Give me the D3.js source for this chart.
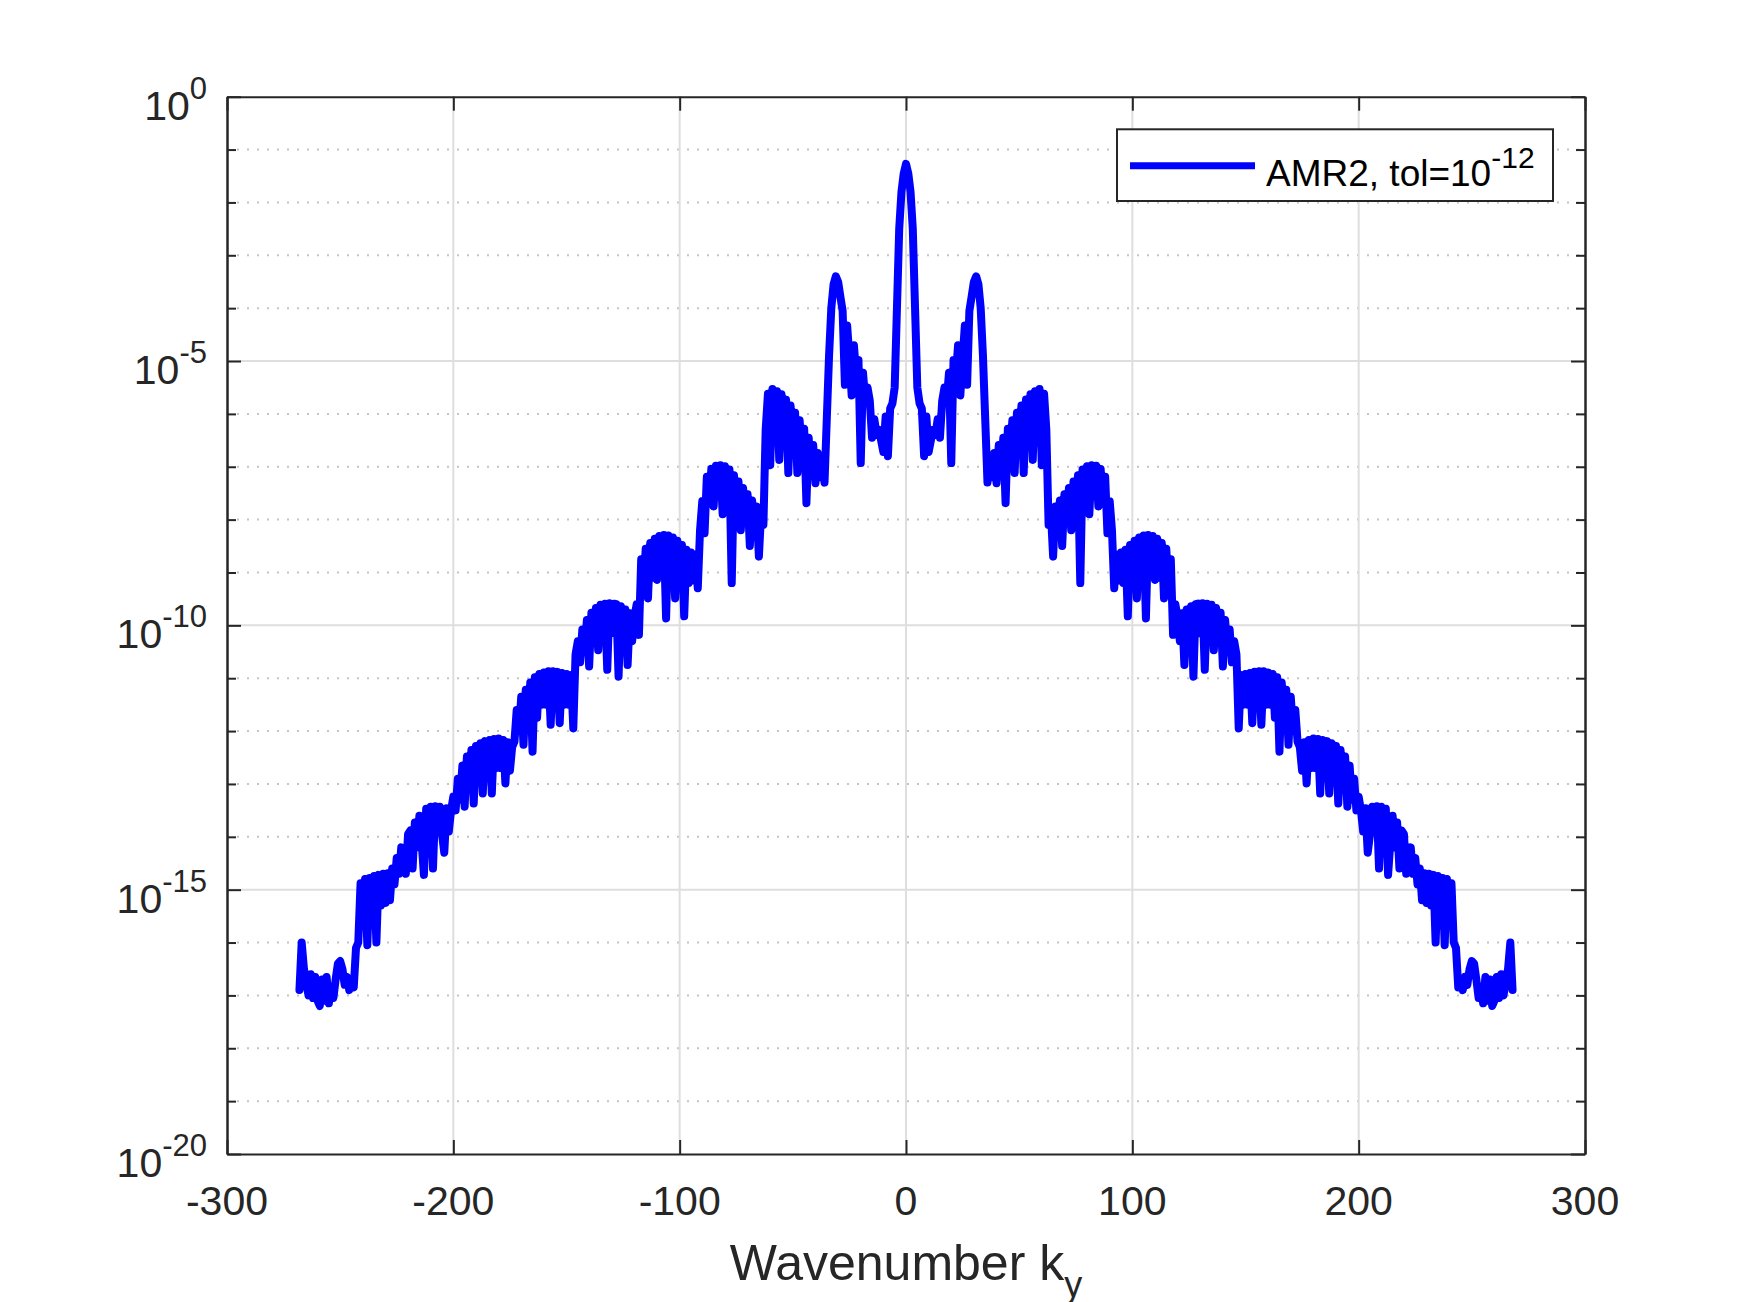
<!DOCTYPE html>
<html>
<head>
<meta charset="utf-8">
<script src="https://cdn.jsdelivr.net/npm/d3@7"></script>
<style>
  body { margin: 0; background: #fff; }
  text { font-family: "Liberation Sans", Arial, Helvetica, sans-serif; }
</style>
</head>
<body>
<div id="chart"></div>
<script>
// wavenumbers run from kMin to kMax in steps of one
var kMin = -268, kMax = 268;

// log10 of the spectrum, k = -268 ... 0
var logAmpLeft = [
    -16.9, -16.0, -16.5, -16.75, -17.0, -16.6, -17.05, -16.65, -17.1, -17.2, -16.7, -17.1, -16.65, -17.15,
    -16.85, -17.05, -16.7, -16.4, -16.35, -16.5, -16.8, -16.65, -16.9, -16.7, -16.85, -16.1, -16.0,
    -14.88, -15.3, -14.8, -16.05, -14.78, -15.3, -14.74, -16.0, -14.72, -15.3, -14.7, -15.25, -14.69, -15.2,
    -14.6, -14.9, -14.4, -14.7, -14.2, -14.45, -14.7, -13.95, -13.88, -14.6, -13.73, -14.2, -13.6, -14.1,
    -14.72, -13.47, -14.0, -13.43, -14.6, -13.42, -13.9, -13.43, -13.95, -14.3, -13.46, -13.9, -13.5,
    -13.24, -13.5, -12.9, -13.3, -12.65, -13.43, -12.48, -13.0, -12.36, -13.37, -12.28, -12.8, -12.23, -13.18,
    -12.19, -12.75, -12.17, -13.18, -12.15, -12.7, -12.14, -12.7, -12.17, -12.99, -12.21, -12.75, -12.3,
    -12.2, -11.6, -12.0, -11.35, -12.26, -11.22, -11.8, -11.08, -12.39, -10.98, -11.75, -10.92, -11.5, -10.89,
    -11.5, -10.87, -11.88, -10.87, -11.45, -10.88, -11.85, -10.9, -11.5, -10.92, -11.5, -10.94, -11.95,
    -10.55, -10.3, -10.7, -10.08, -10.5, -9.9, -10.78, -9.76, -10.25, -9.67, -10.47, -9.61, -10.15, -9.59,
    -10.84, -9.58, -10.15, -9.59, -9.6, -10.97, -9.64, -10.2, -9.7, -10.75, -9.77, -10.3, -9.85,
    -9.6, -10.18, -8.75, -9.3, -8.55, -9.49, -8.44, -9.1, -8.36, -9.14, -8.31, -9.0, -8.29, -9.87,
    -8.3, -9.05, -8.34, -9.49, -8.4, -9.1, -8.48, -9.83, -8.57, -9.2, -8.62, -9.15, -8.66, -9.3,
    -8.2, -7.65, -8.26, -7.19, -7.7, -7.04, -7.75, -6.98, -7.55, -6.97, -7.9, -6.99, -7.6, -7.05, -9.2,
    -7.16, -7.75, -7.28, -8.2, -7.4, -7.95, -7.52, -8.5, -7.64, -8.1, -7.75, -8.7, -7.85, -8.1,
    -6.3, -5.62, -6.97, -5.53, -6.2, -5.57, -6.87, -5.63, -6.3, -5.73, -7.12, -5.84, -6.5, -5.98,
    -7.12, -6.12, -6.75, -6.28, -7.69, -6.45, -7.05, -6.59, -7.31, -6.74, -7.2, -6.88, -7.3,
    -6.1, -4.9, -4.0, -3.55, -3.4, -3.5, -3.78, -4.05, -5.45, -4.33, -4.95, -5.65, -4.7, -5.3, -4.98, -6.93,
    -5.22, -5.75, -5.5, -5.75, -6.45, -6.1, -6.4, -6.3, -6.5, -6.72, -6.05, -6.8, -5.9, -5.8, -5.5, -4.0,
    -2.5, -1.8, -1.45, -1.27
];

// k = 1 ... 268
var logAmpRight = [
    -1.45, -1.8, -2.5, -4.0, -5.5, -5.8, -5.9, -6.8, -6.05, -6.72, -6.5, -6.3, -6.4, -6.1, -6.45, -5.75,
    -5.5, -5.75, -5.22, -6.93, -4.98, -5.3, -4.7, -5.65, -4.95, -4.33, -5.45, -4.05, -3.78, -3.5, -3.4,
    -3.55, -4.0, -4.9, -6.1,
    -7.3, -6.88, -7.2, -6.74, -7.31, -6.59, -7.05, -6.45, -7.69, -6.28, -6.75, -6.12, -7.12, -5.98,
    -6.5, -5.84, -7.12, -5.73, -6.3, -5.63, -6.87, -5.57, -6.2, -5.53, -6.97, -5.62, -6.3,
    -8.1, -7.85, -8.7, -7.75, -8.1, -7.64, -8.5, -7.52, -7.95, -7.4, -8.2, -7.28, -7.75, -7.16, -9.2,
    -7.05, -7.6, -6.99, -7.9, -6.97, -7.55, -6.98, -7.75, -7.04, -7.7, -7.19, -8.26, -7.65, -8.2,
    -9.3, -8.66, -9.15, -8.62, -9.2, -8.57, -9.83, -8.48, -9.1, -8.4, -9.49, -8.34, -9.05, -8.3,
    -9.87, -8.29, -9.0, -8.31, -9.14, -8.36, -9.1, -8.44, -9.49, -8.55, -9.3, -8.75, -10.18, -9.6,
    -9.85, -10.3, -9.77, -10.75, -9.7, -10.2, -9.64, -10.97, -9.6, -9.59, -10.15, -9.58, -10.84, -9.59,
    -10.15, -9.61, -10.47, -9.67, -10.25, -9.76, -10.78, -9.9, -10.5, -10.08, -10.7, -10.3, -10.55,
    -11.95, -10.94, -11.5, -10.92, -11.5, -10.9, -11.85, -10.88, -11.45, -10.87, -11.88, -10.87, -11.5,
    -10.89, -11.5, -10.92, -11.75, -10.98, -12.39, -11.08, -11.8, -11.22, -12.26, -11.35, -12.0, -11.6, -12.2,
    -12.3, -12.75, -12.21, -12.99, -12.17, -12.7, -12.14, -12.7, -12.15, -13.18, -12.17, -12.75, -12.19,
    -13.18, -12.23, -12.8, -12.28, -13.37, -12.36, -13.0, -12.48, -13.43, -12.65, -13.3, -12.9, -13.5, -13.24,
    -13.5, -13.9, -13.46, -14.3, -13.95, -13.43, -13.9, -13.42, -14.6, -13.43, -14.0, -13.47, -14.72,
    -14.1, -13.6, -14.2, -13.73, -14.6, -13.88, -13.95, -14.7, -14.45, -14.2, -14.7, -14.4, -14.9, -14.6,
    -15.2, -14.69, -15.25, -14.7, -15.3, -14.72, -16.0, -14.74, -15.3, -14.78, -16.05, -14.8, -15.3, -14.88,
    -16.0, -16.1, -16.85, -16.7, -16.9, -16.65, -16.8, -16.5, -16.35, -16.4, -16.7, -17.05, -16.85, -17.15,
    -16.65, -17.1, -16.7, -17.2, -17.1, -16.65, -17.05, -16.6, -17.0, -16.75, -16.5, -16.0, -16.9
];

var xTicks = [-300, -200, -100, 0, 100, 200, 300];
var yMajorExp = [0, -5, -10, -15, -20];
var yMinorExp = [-1, -2, -3, -4, -6, -7, -8, -9, -11, -12, -13, -14, -16, -17, -18, -19];
var seriesName = "AMR2, tol=10";
var seriesSup = "-12";
var xLabel = "Wavenumber k";
var xLabelSub = "y";

var drawSpectrum = (function () {

    var W = 1750, H = 1302;
    var plot = {left: 227, right: 1585, top: 96.7, bottom: 1154};
    var axisColor = "#262626";

    function go() {
        var kv = d3.range(kMin, kMax + 1);
        var logAmp = logAmpLeft.concat(logAmpRight);
        var data = kv.map(function (k, i) { return {k: k, amp: Math.pow(10, logAmp[i])}; });

        var svg = d3.select("#chart").append("svg")
            .attr("width", W)
            .attr("height", H)
            .style("display", "block")
            .style("background", "#fff");

        var x = d3.scaleLinear().domain([-300, 300]).range([plot.left, plot.right]);
        var y = d3.scaleLog().domain([1e-20, 1]).range([plot.bottom, plot.top]);

        // grid: dotted minor decades, solid major
        var grid = svg.append("g");
        grid.selectAll(".minor")
            .data(yMinorExp)
            .enter().append("line")
            .attr("x1", plot.left).attr("x2", plot.right)
            .attr("y1", function (e) { return y(Math.pow(10, e)); })
            .attr("y2", function (e) { return y(Math.pow(10, e)); })
            .attr("stroke", "#c4c4c4")
            .attr("stroke-width", 2)
            .attr("stroke-dasharray", "2,8");
        grid.selectAll(".ymaj")
            .data(yMajorExp.slice(1, 4))
            .enter().append("line")
            .attr("x1", plot.left).attr("x2", plot.right)
            .attr("y1", function (e) { return y(Math.pow(10, e)); })
            .attr("y2", function (e) { return y(Math.pow(10, e)); })
            .attr("stroke", "#dedede")
            .attr("stroke-width", 2);
        grid.selectAll(".xmaj")
            .data(xTicks.slice(1, 6))
            .enter().append("line")
            .attr("x1", function (d) { return x(d); })
            .attr("x2", function (d) { return x(d); })
            .attr("y1", plot.top).attr("y2", plot.bottom)
            .attr("stroke", "#dedede")
            .attr("stroke-width", 2);

        // the spectrum
        var line = d3.line()
            .x(function (d) { return x(d.k); })
            .y(function (d) { return y(d.amp); });
        svg.append("path")
            .datum(data)
            .attr("d", line)
            .attr("fill", "none")
            .attr("stroke", "#0000ff")
            .attr("stroke-width", 8)
            .attr("stroke-linejoin", "round")
            .attr("stroke-linecap", "round");

        // axes, ticks pointing inward on all four sides
        function styleAxis(g) {
            g.selectAll("path").attr("stroke", axisColor).attr("stroke-width", 2);
            g.selectAll("line").attr("stroke", axisColor).attr("stroke-width", 2);
            g.selectAll("text").remove();
        }
        var xb = svg.append("g")
            .attr("transform", "translate(0," + plot.bottom + ")")
            .call(d3.axisBottom(x).tickValues(xTicks).tickSizeInner(-14).tickSizeOuter(0));
        styleAxis(xb);
        var xt = svg.append("g")
            .attr("transform", "translate(0," + plot.top + ")")
            .call(d3.axisTop(x).tickValues(xTicks).tickSizeInner(-14).tickSizeOuter(0));
        styleAxis(xt);

        var majVals = yMajorExp.map(function (e) { return Math.pow(10, e); });
        var minVals = yMinorExp.map(function (e) { return Math.pow(10, e); });
        [["left", plot.left, d3.axisLeft], ["right", plot.right, d3.axisRight]].forEach(function (s) {
            var gMaj = svg.append("g")
                .attr("transform", "translate(" + s[1] + ",0)")
                .call(s[2](y).tickValues(majVals).tickSizeInner(-14).tickSizeOuter(0));
            styleAxis(gMaj);
            var gMin = svg.append("g")
                .attr("transform", "translate(" + s[1] + ",0)")
                .call(s[2](y).tickValues(minVals).tickSizeInner(-9).tickSizeOuter(0));
            styleAxis(gMin);
        });

        // x tick labels
        svg.append("g").selectAll("text")
            .data(xTicks)
            .enter().append("text")
            .attr("x", function (d) { return x(d); })
            .attr("y", plot.bottom + 61)
            .attr("text-anchor", "middle")
            .attr("font-size", 41)
            .attr("fill", axisColor)
            .text(function (d) { return String(d); });

        // y tick labels 10^n
        var yl = svg.append("g").selectAll("text")
            .data(yMajorExp)
            .enter().append("text")
            .attr("x", plot.left - 20)
            .attr("y", function (e) { return y(Math.pow(10, e)) + 23; })
            .attr("text-anchor", "end")
            .attr("fill", axisColor)
            .attr("font-size", 41);
        yl.append("tspan").text("10");
        yl.append("tspan")
            .attr("font-size", 31)
            .attr("dy", -21)
            .text(function (e) { return String(e); });

        // x axis label
        var xl = svg.append("text")
            .attr("x", x(0))
            .attr("y", 1280)
            .attr("text-anchor", "middle")
            .attr("fill", axisColor)
            .attr("font-size", 50);
        xl.append("tspan").text(xLabel);
        xl.append("tspan").attr("font-size", 36).attr("dy", 17).text(xLabelSub);

        // legend
        var lg = svg.append("g");
        lg.append("rect")
            .attr("x", 1117).attr("y", 129.3)
            .attr("width", 436).attr("height", 71.7)
            .attr("fill", "#fff")
            .attr("stroke", axisColor)
            .attr("stroke-width", 2);
        lg.append("line")
            .attr("x1", 1130).attr("x2", 1255)
            .attr("y1", 165.7).attr("y2", 165.7)
            .attr("stroke", "#0000ff")
            .attr("stroke-width", 7);
        var lt = lg.append("text")
            .attr("x", 1266)
            .attr("y", 186)
            .attr("fill", "#000")
            .attr("font-size", 37);
        lt.append("tspan").text(seriesName);
        lt.append("tspan").attr("font-size", 30).attr("dy", -18).text(seriesSup);
    }

    document.addEventListener("DOMContentLoaded", function () {
        go();
    });
}());
</script>
</body>
</html>
